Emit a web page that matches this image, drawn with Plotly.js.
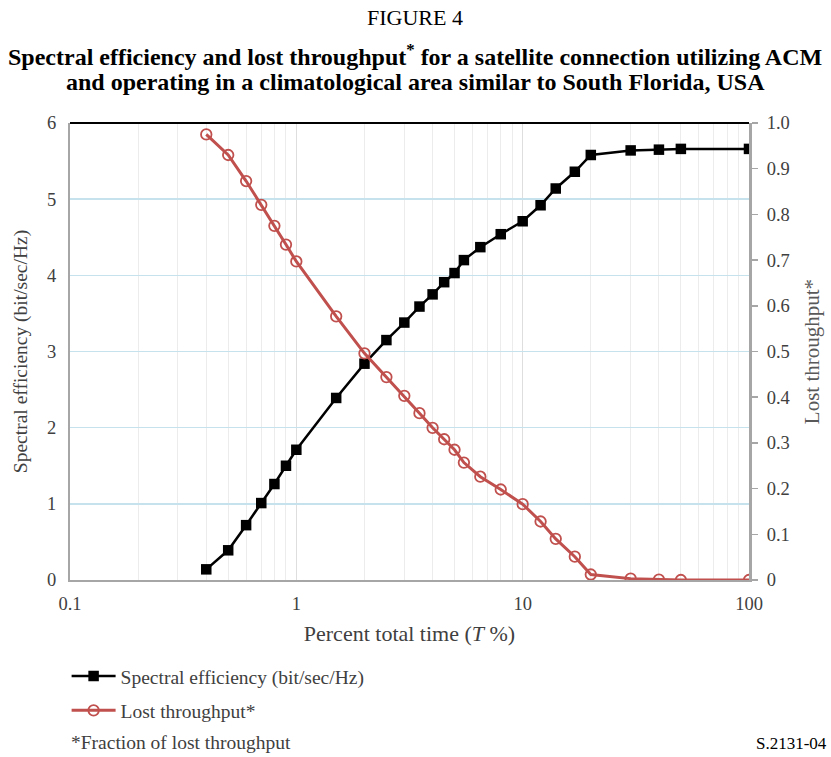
<!DOCTYPE html>
<html>
<head>
<meta charset="utf-8">
<script src="https://cdn.plot.ly/plotly-3.0.1.min.js"></script>
<style>
html,body{margin:0;padding:0;background:#fff;}
#chart{width:831px;height:757px;}
</style>
</head>
<body>
<div id="chart"></div>
<script>
// Percent total time (T %)
const timePct = [0.4,0.5,0.6,0.7,0.8,0.9,1,1.5,2,2.5,3,3.5,4,4.5,5,5.5,6.5,8,10,12,14,17,20,30,40,50,100];
// Spectral efficiency (bit/sec/Hz)
const spectralEff = [0.14,0.39,0.72,1.01,1.26,1.50,1.71,2.39,2.84,3.15,3.38,3.59,3.75,3.91,4.03,4.20,4.37,4.54,4.71,4.92,5.14,5.36,5.58,5.64,5.65,5.66,5.66];
// Lost throughput (fraction)
const lostThroughput = [0.975,0.930,0.873,0.821,0.775,0.734,0.697,0.577,0.496,0.444,0.403,0.365,0.333,0.308,0.285,0.257,0.226,0.198,0.166,0.128,0.090,0.051,0.012,0.003,0.001,0.0,0.0];

const xTickVals = [0.1,1,10,100];
const xTickText = ['0.1','1','10','100'];
const xMinorVals = [0.2,0.3,0.4,0.5,0.6,0.7,0.8,0.9,2,3,4,5,6,7,8,9,20,30,40,50,60,70,80,90];
const yTickVals = [0,1,2,3,4,5,6];
const y2TickVals = [0,0.1,0.2,0.3,0.4,0.5,0.6,0.7,0.8,0.9,1.0];
const y2TickText = ['0','0.1','0.2','0.3','0.4','0.5','0.6','0.7','0.8','0.9','1.0'];

const FONT = 'Liberation Serif, Times New Roman, serif';

const traces = [
  {
    x: timePct, y: spectralEff, name: 'Spectral efficiency (bit/sec/Hz)',
    type: 'scatter', mode: 'lines+markers', yaxis: 'y', legendgroup: 'a',
    line: {color: '#000000', width: 2.5},
    marker: {symbol: 'square', size: 10.5, color: '#000000'}
  },
  {
    x: timePct, y: lostThroughput, name: 'Lost throughput*',
    type: 'scatter', mode: 'lines+markers', yaxis: 'y2', legendgroup: 'b',
    line: {color: '#c0504d', width: 3},
    marker: {symbol: 'circle-open', size: 10.5, color: '#c0504d', line: {width: 1.8, color: '#c0504d'}}
  }
];

const layout = {
  width: 831, height: 757,
  margin: {l: 70, r: 82, t: 123, b: 177},
  paper_bgcolor: '#ffffff', plot_bgcolor: '#ffffff',
  font: {family: FONT, color: '#404040', size: 18},
  showlegend: true,
  legend: {
    x: -0.005, xanchor: 'left', y: -0.168, yanchor: 'top',
    font: {family: FONT, size: 19.5, color: '#404040'},
    itemwidth: 44,
    tracegroupgap: 6, bgcolor: 'rgba(0,0,0,0)'
  },
  xaxis: {
    type: 'log', range: [-1, 2],
    tickvals: xTickVals, ticktext: xTickText,
    ticks: 'outside', ticklen: 6, tickcolor: 'rgba(0,0,0,0)',
    showline: true, linecolor: '#a6a6a6', linewidth: 2,
    showgrid: true, gridcolor: '#dedede', gridwidth: 1,
    minor: {tickvals: xMinorVals, showgrid: true, gridcolor: '#ececec', gridwidth: 1, ticks: ''},
    zeroline: false,
    tickfont: {family: FONT, size: 18.5, color: '#404040'},
    title: {text: 'Percent total time (<i>T</i> %)', font: {family: FONT, size: 22, color: '#404040'}, standoff: 12}
  },
  yaxis: {
    range: [0, 6], tickvals: yTickVals,
    ticks: 'outside', ticklen: 8, tickcolor: 'rgba(0,0,0,0)',
    showline: true, linecolor: '#a6a6a6', linewidth: 2,
    showgrid: true, gridcolor: '#c6e2ec', gridwidth: 1.5,
    zeroline: false,
    tickfont: {family: FONT, size: 18.5, color: '#404040'},
    title: {text: 'Spectral efficiency (bit/sec/Hz)', font: {family: FONT, size: 19.5, color: '#404040'}, standoff: 14}
  },
  yaxis2: {
    range: [0, 1], overlaying: 'y', side: 'right',
    tickvals: y2TickVals, ticktext: y2TickText,
    ticks: 'outside', ticklen: 6, tickcolor: '#a6a6a6', tickwidth: 1.5,
    ticklabelstandoff: 5,
    showline: true, linecolor: '#a6a6a6', linewidth: 3,
    showgrid: false, zeroline: false,
    tickfont: {family: FONT, size: 18.5, color: '#404040'},
    title: {text: 'Lost throughput*', font: {family: FONT, size: 21, color: '#595959'}, standoff: 16}
  },
  shapes: [
    {type: 'line', xref: 'paper', yref: 'paper', x0: 0, x1: 1, y0: 1, y1: 1, line: {color: '#000000', width: 2}}
  ],
  annotations: [
    {text: 'FIGURE 4', xref: 'paper', yref: 'paper', x: 0.5088, y: 1.2316, xanchor: 'center', yanchor: 'middle', showarrow: false,
     font: {family: FONT, size: 22, color: '#000000'}},
    {text: '<b>Spectral efficiency and lost throughput<sup>*</sup> for a satellite connection utilizing ACM</b>', xref: 'paper', yref: 'paper', x: 0.5088, y: 1.1488, xanchor: 'center', yanchor: 'middle', showarrow: false,
     font: {family: FONT, size: 24, color: '#000000'}},
    {text: '<b>and operating in a climatological area similar to South Florida, USA</b>', xref: 'paper', yref: 'paper', x: 0.5088, y: 1.0897, xanchor: 'center', yanchor: 'middle', showarrow: false,
     font: {family: FONT, size: 24, color: '#000000'}},
    {text: '*Fraction of lost throughput', xref: 'paper', yref: 'paper', x: -0.002, y: -0.3545, xanchor: 'left', yanchor: 'middle', showarrow: false,
     font: {family: FONT, size: 19.5, color: '#404040'}},
    {text: 'S.2131-04', xref: 'paper', yref: 'paper', x: 1.1178, y: -0.3567, xanchor: 'right', yanchor: 'middle', showarrow: false,
     font: {family: FONT, size: 17, color: '#000000'}}
  ]
};

Plotly.newPlot('chart', traces, layout, {displayModeBar: false, staticPlot: true});
</script>
</body>
</html>
